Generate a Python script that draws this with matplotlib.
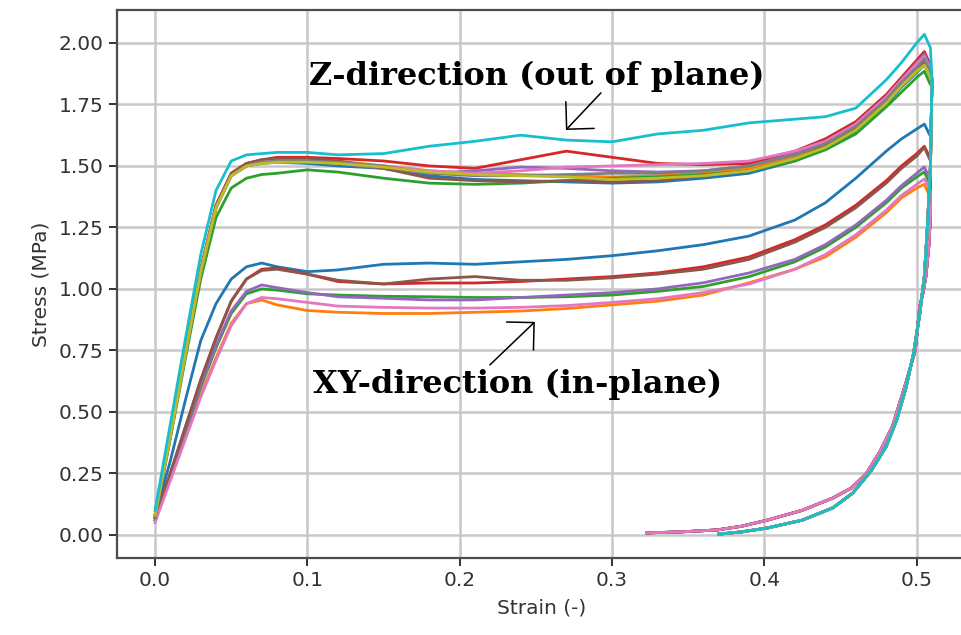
import matplotlib
matplotlib.use("Agg")
import matplotlib.pyplot as plt

# shared strain grid for the loading branch
load_strain = [0.0, 0.01, 0.02, 0.03, 0.04, 0.05, 0.06, 0.07, 0.08, 0.10, 0.12, 0.15,
               0.18, 0.21, 0.24, 0.27, 0.30, 0.33, 0.36, 0.39, 0.42, 0.44, 0.46, 0.48,
               0.49, 0.50, 0.505, 0.509]

# Z-direction (out of plane) specimens, stress in MPa
z_stress = {
    "C0": [0.08, 0.40, 0.74, 1.07, 1.33, 1.46, 1.50, 1.51, 1.515,
           1.51, 1.50, 1.49, 1.46, 1.445, 1.44, 1.435, 1.43, 1.435, 1.45, 1.47,
           1.52, 1.57, 1.64, 1.75, 1.82, 1.88, 1.91, 1.86],
    "C1": [0.08, 0.40, 0.74, 1.07, 1.33, 1.46, 1.50, 1.515, 1.52,
           1.52, 1.52, 1.50, 1.48, 1.47, 1.465, 1.46, 1.455, 1.46, 1.47, 1.49,
           1.54, 1.59, 1.66, 1.77, 1.84, 1.90, 1.93, 1.88],
    "C2": [0.07, 0.39, 0.72, 1.04, 1.29, 1.41, 1.45, 1.465, 1.47,
           1.484, 1.475, 1.45, 1.43, 1.425, 1.43, 1.44, 1.45, 1.455, 1.465, 1.48,
           1.52, 1.565, 1.63, 1.74, 1.80, 1.86, 1.885, 1.83],
    "C3": [0.08, 0.41, 0.75, 1.08, 1.34, 1.47, 1.51, 1.525, 1.535,
           1.535, 1.53, 1.52, 1.50, 1.49, 1.525, 1.56, 1.535, 1.51, 1.505, 1.51,
           1.56, 1.61, 1.68, 1.79, 1.86, 1.93, 1.965, 1.91],
    "C4": [0.08, 0.40, 0.74, 1.07, 1.33, 1.46, 1.50, 1.515, 1.52,
           1.52, 1.51, 1.49, 1.47, 1.48, 1.495, 1.49, 1.48, 1.475, 1.48, 1.50,
           1.55, 1.60, 1.67, 1.78, 1.85, 1.92, 1.955, 1.90],
    "C5": [0.08, 0.41, 0.75, 1.08, 1.34, 1.47, 1.51, 1.525, 1.53,
           1.53, 1.52, 1.49, 1.45, 1.44, 1.435, 1.44, 1.435, 1.44, 1.46, 1.48,
           1.53, 1.58, 1.65, 1.76, 1.83, 1.89, 1.925, 1.87],
    "C6": [0.08, 0.40, 0.74, 1.07, 1.33, 1.46, 1.50, 1.515, 1.52,
           1.52, 1.51, 1.50, 1.48, 1.47, 1.48, 1.495, 1.50, 1.505, 1.51, 1.52,
           1.56, 1.60, 1.67, 1.78, 1.85, 1.915, 1.945, 1.89],
    "C7": [0.08, 0.40, 0.74, 1.07, 1.33, 1.46, 1.50, 1.515, 1.52,
           1.52, 1.515, 1.50, 1.47, 1.46, 1.46, 1.465, 1.47, 1.47, 1.48, 1.50,
           1.545, 1.59, 1.66, 1.77, 1.84, 1.90, 1.935, 1.88],
    "C8": [0.08, 0.40, 0.74, 1.07, 1.33, 1.46, 1.50, 1.51, 1.515,
           1.515, 1.51, 1.495, 1.475, 1.465, 1.46, 1.455, 1.445, 1.45, 1.46, 1.48,
           1.53, 1.575, 1.645, 1.755, 1.825, 1.885, 1.91, 1.86],
    "C9": [0.10, 0.45, 0.80, 1.14, 1.40, 1.52, 1.545, 1.55, 1.555,
           1.555, 1.545, 1.55, 1.58, 1.60, 1.625, 1.605, 1.598, 1.63, 1.645, 1.675,
           1.69, 1.70, 1.735, 1.85, 1.92, 2.00, 2.035, 1.98],
}

# XY-direction (in-plane) specimens
xy_stress = {
    "C0": [0.08, 0.30, 0.55, 0.79, 0.94, 1.04, 1.09, 1.105, 1.09,
           1.07, 1.077, 1.10, 1.105, 1.10, 1.11, 1.12, 1.135, 1.155, 1.18, 1.215,
           1.28, 1.35, 1.45, 1.56, 1.61, 1.65, 1.67, 1.62],
    "C1": [0.06, 0.23, 0.40, 0.57, 0.72, 0.86, 0.94, 0.955, 0.935,
           0.912, 0.905, 0.90, 0.90, 0.905, 0.91, 0.92, 0.935, 0.95, 0.975, 1.025,
           1.08, 1.13, 1.21, 1.31, 1.37, 1.41, 1.425, 1.37],
    "C2": [0.06, 0.24, 0.42, 0.60, 0.76, 0.90, 0.98, 1.00, 0.995,
           0.98, 0.975, 0.97, 0.968, 0.965, 0.965, 0.968, 0.975, 0.99, 1.01, 1.05,
           1.11, 1.17, 1.25, 1.35, 1.41, 1.455, 1.476, 1.42],
    "C3": [0.07, 0.25, 0.44, 0.63, 0.80, 0.95, 1.04, 1.08, 1.085,
           1.06, 1.03, 1.02, 1.024, 1.024, 1.03, 1.04, 1.05, 1.065, 1.09, 1.13,
           1.20, 1.26, 1.34, 1.44, 1.50, 1.55, 1.58, 1.53],
    "C4": [0.06, 0.24, 0.43, 0.61, 0.77, 0.91, 0.99, 1.016, 1.005,
           0.985, 0.968, 0.962, 0.955, 0.955, 0.965, 0.975, 0.985, 1.00, 1.025, 1.065,
           1.12, 1.18, 1.26, 1.36, 1.42, 1.47, 1.496, 1.44],
    "C5": [0.07, 0.25, 0.44, 0.63, 0.80, 0.95, 1.04, 1.075, 1.08,
           1.06, 1.035, 1.02, 1.04, 1.05, 1.035, 1.035, 1.045, 1.06, 1.08, 1.12,
           1.19, 1.25, 1.33, 1.43, 1.49, 1.54, 1.575, 1.52],
    "C6": [0.05, 0.22, 0.39, 0.56, 0.71, 0.85, 0.94, 0.965, 0.96,
           0.945, 0.93, 0.925, 0.922, 0.922, 0.925, 0.932, 0.945, 0.96, 0.985, 1.02,
           1.08, 1.14, 1.22, 1.32, 1.38, 1.425, 1.447, 1.40],
}

# unloading branches (shared by each group)
z_unload_strain = [0.510, 0.509, 0.507, 0.505, 0.502, 0.498, 0.493, 0.487, 0.480,
                   0.470, 0.458, 0.445, 0.425, 0.402, 0.385, 0.370]
z_unload_stress = [1.85, 1.50, 1.25, 1.05, 0.90, 0.74, 0.60, 0.47, 0.36,
                   0.26, 0.17, 0.11, 0.06, 0.028, 0.012, 0.003]
xy_unload_strain = [0.509, 0.508, 0.506, 0.504, 0.502, 0.499, 0.493, 0.484, 0.476,
                    0.467, 0.457, 0.445, 0.425, 0.402, 0.385, 0.369, 0.345, 0.323]
xy_unload_stress = [1.30, 1.18, 1.05, 0.98, 0.93, 0.75, 0.62, 0.44, 0.34,
                    0.25, 0.19, 0.15, 0.10, 0.06, 0.035, 0.02, 0.012, 0.008]

fig = plt.figure(figsize=(9.62, 6.35), dpi=100)
ax = fig.add_axes([0.1216, 0.1213, 0.8836, 0.863])

for color, stress in xy_stress.items():
    ax.plot(load_strain + xy_unload_strain, stress + xy_unload_stress,
            color=color, lw=2.0)
for color, stress in z_stress.items():
    ax.plot(load_strain + z_unload_strain, stress + z_unload_stress,
            color=color, lw=2.0)

ax.set_xlim(-0.025, 0.533)
ax.set_ylim(-0.094, 2.134)
ax.set_yticks([0, 0.25, 0.5, 0.75, 1.0, 1.25, 1.5, 1.75, 2.0])
ax.set_xticks([0, 0.1, 0.2, 0.3, 0.4, 0.5])
ax.set_yticklabels(["0.00", "0.25", "0.50", "0.75", "1.00", "1.25", "1.50", "1.75", "2.00"])
ax.grid(True, color="#c8c8c8", lw=1.8)
ax.set_axisbelow(True)
for sp in ax.spines.values():
    sp.set_color("#4d4d4d")
    sp.set_linewidth(1.6)
ax.tick_params(labelsize=14.5, colors="#333333", length=6, width=1.4)
ax.set_xlabel("Strain (-)", fontsize=14.5, color="#333333", labelpad=6)
ax.set_ylabel("Stress (MPa)", fontsize=14.5, color="#333333", labelpad=6)

# annotations
ax.text(0.2503, 1.862, "Z-direction (out of plane)", family="DejaVu Serif",
        fontweight="bold", fontsize=23, ha="center", va="center")
ax.text(0.2382, 0.61, "XY-direction (in-plane)", family="DejaVu Serif",
        fontweight="bold", fontsize=23, ha="center", va="center")
arrow = dict(arrowstyle="->,head_length=0.7,head_width=0.7", lw=1.1,
             color="black", shrinkA=0, shrinkB=0, mutation_scale=20)
ax.annotate("", xy=(0.2697, 1.646), xytext=(0.2927, 1.797), arrowprops=arrow)
ax.annotate("", xy=(0.2493, 0.866), xytext=(0.2198, 0.691), arrowprops=arrow)

fig.savefig("out.png", dpi=100)
